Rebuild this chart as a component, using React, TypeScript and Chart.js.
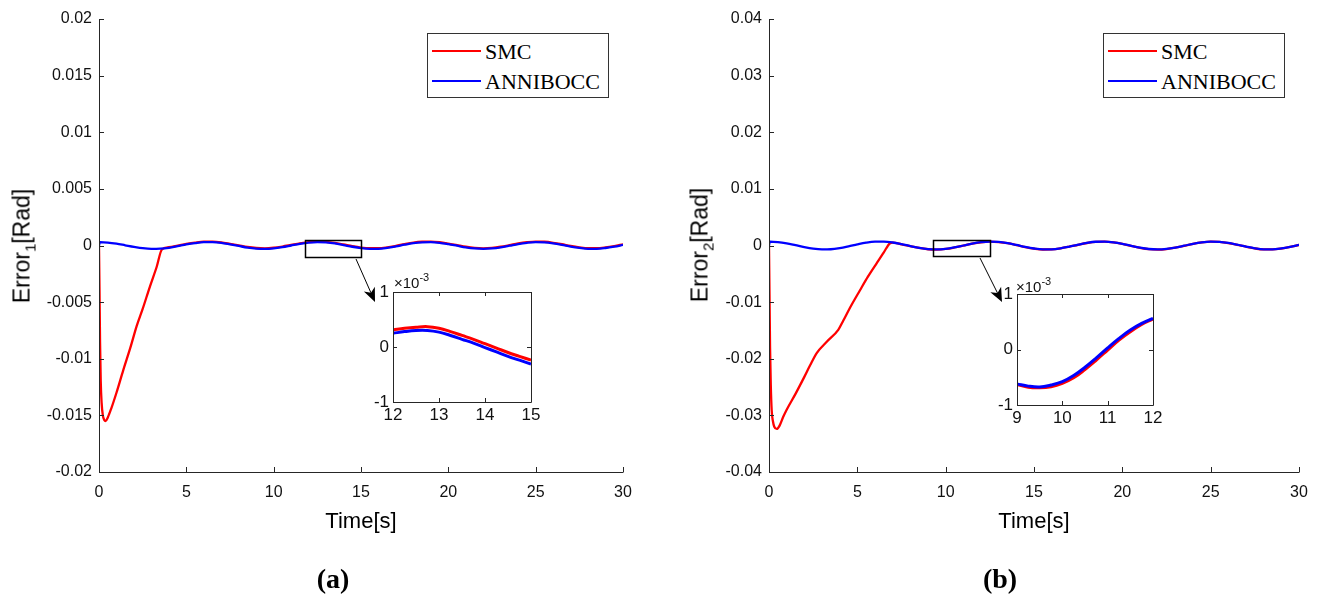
import React, { useEffect, useRef } from "react";
import { Chart, registerables } from "chart.js";

Chart.register(...registerables);

const SANS = "'Liberation Sans', Arial, sans-serif";
const SERIF = "'Liberation Serif', 'Times New Roman', serif";

// ---------------- data (main plots: values in 1e-4 rad) ----------------
const UNIT = 1e-4;

const annTime1 = [0, 0.05, 0.5, 1, 1.5, 2, 2.5, 3, 3.5, 4, 4.5, 5, 5.5, 6, 6.5, 7, 7.5, 8, 8.5, 9, 9.5, 10, 10.5, 11, 11.5, 12, 12.5, 13, 13.5, 14, 14.5, 15, 15.5, 16, 16.5, 17, 17.5, 18, 18.5, 19, 19.5, 20, 20.5, 21, 21.5, 22, 22.5, 23, 23.5, 24, 24.5, 25, 25.5, 26, 26.5, 27, 27.5, 28, 28.5, 29, 29.5, 30];
const annErr1 = [0, 3.0, 2.6, 1.6, 0.2, -1.2, -2.4, -3.0, -2.8, -2.0, -0.6, 0.9, 2.1, 2.9, 2.9, 2.3, 1.0, -0.4, -1.8, -2.7, -3.0, -2.5, -1.4, 0.0, 1.4, 2.5, 3.0, 2.7, 1.8, 0.4, -1.1, -2.3, -2.9, -2.9, -2.1, -0.8, 0.7, 2.0, 2.8, 3.0, 2.4, 1.2, -0.2, -1.6, -2.6, -3.0, -2.6, -1.6, -0.2, 1.3, 2.4, 3.0, 2.8, 1.9, 0.6, -0.9, -2.1, -2.9, -2.9, -2.2, -1.0, 0.5];

const smcTime1 = [0, 0.03, 0.06, 0.1, 0.15, 0.22, 0.3, 0.38, 0.5, 0.7, 1.0, 1.39, 1.8, 2.16, 2.5, 2.92, 3.3, 3.6, 4, 4.5, 5, 5.5, 6, 6.5, 7, 7.5, 8, 8.5, 9, 9.5, 10, 10.5, 11, 11.5, 12, 12.5, 13, 13.5, 14, 14.5, 15, 15.5, 16, 16.5, 17, 17.5, 18, 18.5, 19, 19.5, 20, 20.5, 21, 21.5, 22, 22.5, 23, 23.5, 24, 24.5, 25, 25.5, 26, 26.5, 27, 27.5, 28, 28.5, 29, 29.5, 30];
const smcErr1 = [0, -40, -85, -120, -139, -150, -154, -155, -152, -144, -130, -110, -90, -71, -56, -36, -19, -3.5, -1.5, -0.1, 1.4, 2.6, 3.4, 3.4, 2.8, 1.5, 0.1, -1.3, -2.2, -2.5, -2.0, -0.9, 0.5, 1.9, 3.0, 3.5, 3.2, 2.3, 0.9, -0.6, -1.8, -2.4, -2.4, -1.6, -0.3, 1.2, 2.5, 3.3, 3.5, 2.9, 1.7, 0.3, -1.1, -2.1, -2.5, -2.1, -1.1, 0.3, 1.8, 2.9, 3.5, 3.3, 2.4, 1.1, -0.4, -1.6, -2.4, -2.4, -1.7, -0.5, 1.0];

const annTime2 = [0, 0.05, 0.5, 1, 1.5, 2, 2.5, 3, 3.5, 4, 4.5, 5, 5.5, 6, 6.5, 7, 7.5, 8, 8.5, 9, 9.5, 10, 10.5, 11, 11.5, 12, 12.5, 13, 13.5, 14, 14.5, 15, 15.5, 16, 16.5, 17, 17.5, 18, 18.5, 19, 19.5, 20, 20.5, 21, 21.5, 22, 22.5, 23, 23.5, 24, 24.5, 25, 25.5, 26, 26.5, 27, 27.5, 28, 28.5, 29, 29.5, 30];
const annErr2 = [0, 7.0, 6.1, 3.8, 0.5, -2.9, -5.6, -6.9, -6.6, -4.6, -1.5, 2.0, 5.0, 6.7, 6.8, 5.3, 2.4, -1.0, -4.2, -6.4, -7.0, -5.9, -3.3, 0.0, 3.4, 5.9, 7.0, 6.3, 4.2, 1.0, -2.5, -5.3, -6.9, -6.7, -4.9, -1.9, 1.5, 4.6, 6.6, 6.9, 5.6, 2.9, -0.6, -3.8, -6.2, -7.0, -6.1, -3.7, -0.4, 3.0, 5.6, 6.9, 6.5, 4.5, 1.4, -2.0, -5.0, -6.7, -6.8, -5.2, -2.4, 1.1];

const smcTime2 = [0, 0.03, 0.06, 0.1, 0.15, 0.22, 0.3, 0.44, 0.6, 0.8, 1.0, 1.5, 2.0, 2.32, 2.7, 3.27, 3.92, 4.2, 4.6, 5.15, 5.6, 6.1, 6.5, 6.85, 7, 7.5, 8, 8.5, 9, 9.5, 10, 10.5, 11, 11.5, 12, 12.5, 13, 13.5, 14, 14.5, 15, 15.5, 16, 16.5, 17, 17.5, 18, 18.5, 19, 19.5, 20, 20.5, 21, 21.5, 22, 22.5, 23, 23.5, 24, 24.5, 25, 25.5, 26, 26.5, 27, 27.5, 28, 28.5, 29, 29.5, 30];
const smcErr2 = [0, -90, -180, -245, -290, -310, -320, -324, -318, -303, -290, -262, -232, -212, -190, -170, -149, -133, -109, -79, -55, -31, -12, 4, 5.1, 2.2, -1.2, -4.4, -6.6, -7.2, -6.1, -3.5, -0.2, 3.2, 5.7, 6.8, 6.1, 4.0, 0.8, -2.7, -5.5, -7.1, -6.9, -5.1, -2.1, 1.3, 4.4, 6.4, 6.7, 5.4, 2.7, -0.8, -4.0, -6.4, -7.2, -6.3, -3.9, -0.6, 2.8, 5.4, 6.7, 6.3, 4.3, 1.2, -2.2, -5.2, -6.9, -7.0, -5.4, -2.6, 0.9];

// ---------------- insets (values in 1e-3 rad) ----------------
const insetTimeA = [12, 12.25, 12.5, 12.75, 13, 13.25, 13.5, 13.75, 14, 14.25, 14.5, 14.75, 15];
const insetSmcA = [0.31, 0.34, 0.36, 0.37, 0.34, 0.28, 0.21, 0.14, 0.06, -0.02, -0.10, -0.17, -0.24];
const insetAnnA = [0.25, 0.28, 0.30, 0.30, 0.27, 0.21, 0.14, 0.07, -0.01, -0.09, -0.17, -0.24, -0.31];

const insetTimeB = [9, 9.25, 9.5, 9.75, 10, 10.25, 10.5, 10.75, 11, 11.25, 11.5, 11.75, 12];
const insetSmcB = [-0.63, -0.68, -0.69, -0.67, -0.61, -0.51, -0.36, -0.19, -0.01, 0.17, 0.32, 0.45, 0.55];
const insetAnnB = [-0.62, -0.66, -0.675, -0.64, -0.58, -0.47, -0.32, -0.15, 0.03, 0.20, 0.35, 0.47, 0.56];

const seriesNames = ["SMC", "ANNIBOCC"];
const seriesColors = ["#ff0000", "#0000ff"];

// ---------------- helpers ----------------
const toPts = (t: number[], v: number[], k = 1) => t.map((x, i) => ({ x, y: v[i] * k }));
const fmt = (v: number | string) => {
  const n = Math.round(Number(v) * 1e6) / 1e6;
  return n === 0 ? "0" : String(n);
};

const framePlugin = {
  id: "frame",
  afterDatasetsDraw(chart: any, _a: any, opts: any) {
    const { ctx, chartArea: a, scales } = chart;
    const xs = scales.x, ys = scales.y;
    const L = opts.tick ?? 5;
    const c = (v: number) => Math.round(v) + 0.5;
    ctx.save();
    ctx.lineWidth = 1;
    ctx.strokeStyle = opts.tickColor ?? "#262626";
    ctx.beginPath();
    for (const t of xs.ticks) {
      const px = c(xs.getPixelForValue(t.value));
      ctx.moveTo(px, a.bottom);
      ctx.lineTo(px, a.bottom - L);
      if (opts.box) { ctx.moveTo(px, a.top); ctx.lineTo(px, a.top + L); }
    }
    for (const t of ys.ticks) {
      const py = c(ys.getPixelForValue(t.value));
      ctx.moveTo(a.left, py);
      ctx.lineTo(a.left + L, py);
      if (opts.box) { ctx.moveTo(a.right, py); ctx.lineTo(a.right - L, py); }
    }
    ctx.stroke();
    ctx.strokeStyle = opts.color ?? "#262626";
    ctx.beginPath();
    const l = c(a.left), b = c(a.bottom);
    if (opts.box) {
      ctx.rect(l, c(a.top), c(a.right) - l, b - c(a.top));
    } else {
      ctx.moveTo(l, c(a.top));
      ctx.lineTo(l, b);
      ctx.lineTo(c(a.right), b);
    }
    ctx.stroke();
    ctx.restore();
  },
};

const zoomRectPlugin = {
  id: "zoomRect",
  afterDatasetsDraw(chart: any, _a: any, opts: any) {
    if (!opts || opts.x0 === undefined) return;
    const { ctx, scales } = chart;
    const x0 = scales.x.getPixelForValue(opts.x0), x1 = scales.x.getPixelForValue(opts.x1);
    const y0 = scales.y.getPixelForValue(opts.y1), y1 = scales.y.getPixelForValue(opts.y0);
    ctx.save();
    ctx.strokeStyle = "#000";
    ctx.lineWidth = 1.5;
    ctx.strokeRect(Math.round(x0) + 0.5, Math.round(y0) + 0.5, Math.round(x1 - x0), Math.round(y1 - y0));
    ctx.restore();
  },
};

function ChartCanvas(props: { left: number; top: number; width: number; height: number; make: () => any }) {
  const ref = useRef<HTMLCanvasElement>(null);
  useEffect(() => {
    const chart = new Chart(ref.current as HTMLCanvasElement, props.make());
    return () => chart.destroy();
  }, []);
  return (
    <canvas
      ref={ref}
      width={props.width}
      height={props.height}
      style={{ position: "absolute", left: props.left, top: props.top, width: props.width, height: props.height }}
    />
  );
}

function lineDatasets(smc: any[], ann: any[], width: number, smooth: "monotone" | "tension") {
  const curve = smooth === "monotone" ? { cubicInterpolationMode: "monotone" } : { tension: 0.4 };
  return [
    { label: seriesNames[0], data: smc, borderColor: seriesColors[0], borderWidth: width, pointRadius: 0, fill: false, order: 1, ...curve },
    { label: seriesNames[1], data: ann, borderColor: seriesColors[1], borderWidth: width, pointRadius: 0, fill: false, order: 0, ...curve },
  ];
}

function mainConfig(o: {
  smcT: number[]; smcV: number[]; annT: number[]; annV: number[];
  yMin: number; yMax: number; yStep: number;
  pad: { left: number; right: number; top: number; bottom: number };
  rect: { x0: number; x1: number; y0: number; y1: number };
}) {
  const tickFont = { family: SANS, size: 16 };
  return {
    type: "line",
    data: { datasets: lineDatasets(toPts(o.smcT, o.smcV, UNIT), toPts(o.annT, o.annV, UNIT), 2.3, "monotone") },
    options: {
      animation: false,
      responsive: false,
      events: [],
      layout: { padding: o.pad },
      plugins: {
        legend: { display: false },
        tooltip: { enabled: false },
        frame: { box: false, tick: 5, color: "#262626", tickColor: "#262626" },
        zoomRect: o.rect,
      },
      scales: {
        x: {
          type: "linear", min: 0, max: 30,
          grid: { display: false, drawTicks: false }, border: { display: false },
          ticks: { stepSize: 5, font: tickFont, color: "#111", padding: 11, autoSkip: false, maxRotation: 0, callback: fmt },
          afterFit: (s: any) => { s.height = 60; },
        },
        y: {
          type: "linear", min: o.yMin, max: o.yMax,
          grid: { display: false, drawTicks: false }, border: { display: false },
          ticks: { stepSize: o.yStep, font: tickFont, color: "#111", padding: 7, autoSkip: false, callback: fmt },
          afterFit: (s: any) => { s.width = 60; },
        },
      },
    },
    plugins: [framePlugin, zoomRectPlugin],
  };
}

function insetConfig(o: {
  t: number[]; smc: number[]; ann: number[]; xMin: number; xMax: number;
  pad: { left: number; right: number; top: number; bottom: number };
}) {
  const tickFont = { family: SANS, size: 17 };
  return {
    type: "line",
    data: { datasets: lineDatasets(toPts(o.t, o.smc), toPts(o.t, o.ann), 3, "tension") },
    options: {
      animation: false,
      responsive: false,
      events: [],
      layout: { padding: o.pad },
      plugins: {
        legend: { display: false },
        tooltip: { enabled: false },
        frame: { box: true, tick: 4, color: "#262626", tickColor: "#262626" },
      },
      scales: {
        x: {
          type: "linear", min: o.xMin, max: o.xMax,
          grid: { display: false, drawTicks: false }, border: { display: false },
          ticks: { stepSize: 1, font: tickFont, color: "#111", padding: 3, autoSkip: false, maxRotation: 0, callback: fmt },
          afterFit: (s: any) => { s.height = 22; },
        },
        y: {
          type: "linear", min: -1, max: 1,
          grid: { display: false, drawTicks: false }, border: { display: false },
          ticks: { stepSize: 1, font: tickFont, color: "#111", padding: 4, autoSkip: false, callback: fmt },
          afterFit: (s: any) => { s.width = 30; },
        },
      },
    },
    plugins: [framePlugin],
  };
}

function Legend({ left, top }: { left: number; top: number }) {
  return (
    <div style={{ position: "absolute", left, top, width: 182, height: 65, boxSizing: "border-box", border: "1px solid #333", background: "#fff" }}>
      {seriesNames.map((n, i) => (
        <React.Fragment key={n}>
          <div style={{ position: "absolute", left: 4, top: 16 + i * 30, width: 49, height: 2, background: seriesColors[i] }} />
          <div style={{ position: "absolute", left: 57, top: 6 + i * 30, font: `22px ${SERIF}`, lineHeight: "24px", color: "#000", whiteSpace: "nowrap" }}>{n}</div>
        </React.Fragment>
      ))}
    </div>
  );
}

function YTitle({ cx, cy, idx }: { cx: number; cy: number; idx: string }) {
  return (
    <div style={{ position: "absolute", left: cx, top: cy, transform: "translate(-50%,-50%) rotate(-90deg)", font: `23px ${SANS}`, lineHeight: 1, whiteSpace: "nowrap", color: "#000" }}>
      Error<span style={{ fontSize: 15, position: "relative", top: 6 }}>{idx}</span>[Rad]
    </div>
  );
}

function Centered({ cx, cy, font, children }: { cx: number; cy: number; font: string; children: any }) {
  return (
    <div style={{ position: "absolute", left: cx, top: cy, transform: "translate(-50%,-50%)", font, lineHeight: 1, whiteSpace: "nowrap", color: "#000" }}>{children}</div>
  );
}

function Exponent({ left, top }: { left: number; top: number }) {
  return (
    <div style={{ position: "absolute", left, top, font: `15px ${SANS}`, lineHeight: 1, whiteSpace: "nowrap", color: "#111" }}>
      ×10<span style={{ fontSize: 11, position: "relative", top: -7 }}>-3</span>
    </div>
  );
}

function Arrow({ x1, y1, x2, y2 }: { x1: number; y1: number; x2: number; y2: number }) {
  const dx = x2 - x1, dy = y2 - y1;
  const len = Math.hypot(dx, dy);
  const ux = dx / len, uy = dy / len;
  const hl = 14, hw = 6, notch = 10;
  const bx = x2 - ux * hl, by = y2 - uy * hl;
  const nx = x2 - ux * notch, ny = y2 - uy * notch;
  const p1 = `${bx - uy * hw},${by + ux * hw}`;
  const p2 = `${bx + uy * hw},${by - ux * hw}`;
  return (
    <g>
      <line x1={x1} y1={y1} x2={nx} y2={ny} stroke="#000" strokeWidth={1} />
      <polygon points={`${x2},${y2} ${p1} ${nx},${ny} ${p2}`} fill="#000" />
    </g>
  );
}

export default function App() {
  return (
    <div style={{ position: "absolute", left: 0, top: 0, width: 1320, height: 596, background: "#fff", overflow: "hidden" }}>
      <ChartCanvas
        left={0} top={0} width={660} height={596}
        make={() => mainConfig({
          smcT: smcTime1, smcV: smcErr1, annT: annTime1, annV: annErr1,
          yMin: -0.02, yMax: 0.02, yStep: 0.005,
          pad: { left: 39, right: 37, top: 19, bottom: 64 },
          rect: { x0: 11.8, x1: 15.0, y0: -0.001, y1: 0.0005 },
        })}
      />
      <ChartCanvas
        left={660} top={0} width={660} height={596}
        make={() => mainConfig({
          smcT: smcTime2, smcV: smcErr2, annT: annTime2, annV: annErr2,
          yMin: -0.04, yMax: 0.04, yStep: 0.01,
          pad: { left: 49, right: 21, top: 19, bottom: 64 },
          rect: { x0: 9.28, x1: 12.5, y0: -0.002, y1: 0.0009 },
        })}
      />
      <ChartCanvas
        left={350} top={265} width={200} height={165}
        make={() => insetConfig({ t: insetTimeA, smc: insetSmcA, ann: insetAnnA, xMin: 12, xMax: 15, pad: { left: 13, right: 19, top: 27, bottom: 6 } })}
      />
      <ChartCanvas
        left={975} top={268} width={200} height={165}
        make={() => insetConfig({ t: insetTimeB, smc: insetSmcB, ann: insetAnnB, xMin: 9, xMax: 12, pad: { left: 12, right: 22, top: 26, bottom: 6 } })}
      />

      <Exponent left={394} top={275} />
      <Exponent left={1016} top={279} />

      <Legend left={427} top={33} />
      <Legend left={1103} top={33} />

      <YTitle cx={22} cy={246} idx="1" />
      <YTitle cx={700} cy={245} idx="2" />
      <Centered cx={361} cy={521} font={`22px ${SANS}`}>Time[s]</Centered>
      <Centered cx={1034} cy={521} font={`22px ${SANS}`}>Time[s]</Centered>
      <Centered cx={333} cy={579} font={`bold 28px ${SERIF}`}>(a)</Centered>
      <Centered cx={1000} cy={579} font={`bold 28px ${SERIF}`}>(b)</Centered>

      <svg width={1320} height={596} style={{ position: "absolute", left: 0, top: 0, pointerEvents: "none" }}>
        <Arrow x1={356} y1={259} x2={375} y2={302} />
        <Arrow x1={980} y1={258} x2={1002} y2={302} />
      </svg>
    </div>
  );
}
